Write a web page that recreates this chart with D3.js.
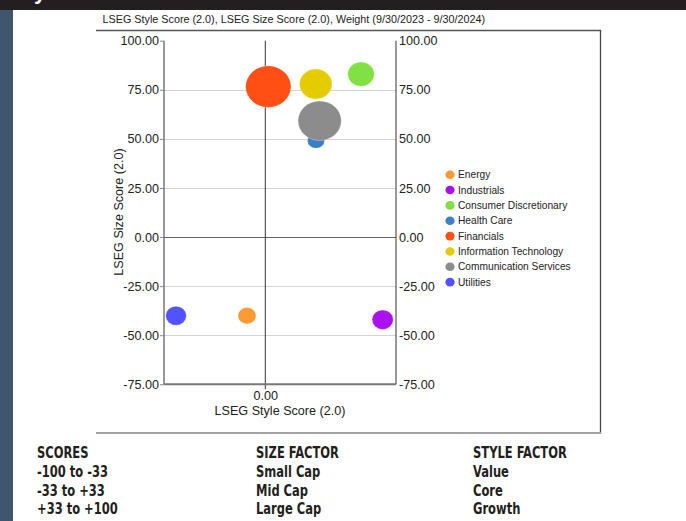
<!DOCTYPE html>
<html>
<head>
<meta charset="utf-8">
<script src="https://cdn.jsdelivr.net/npm/d3@7"></script>
<style>
  html, body { margin: 0; padding: 0; background: #fff; }
  svg { display: block; }
  text { font-family: "Liberation Sans", Arial, sans-serif; fill: #222; }
  .tbl text { font-family: "Liberation Sans Narrow", "DejaVu Sans Condensed", sans-serif; fill: #231f20; }
</style>
</head>
<body>
<svg id="chart" width="686" height="521"></svg>
<script>
// sectors, in legend order
const sectors     = ["Energy", "Industrials", "Consumer Discretionary", "Health Care",
                     "Financials", "Information Technology", "Communication Services", "Utilities"];
const styleScores = [-14.0, 89.8, 73.2, 38.8, 2.3, 38.6, 41.6, -68.3];
const sizeScores  = [-40.1, -42.1, 83.0, 49.2, 76.6, 77.9, 59.2, -40.1];
const weights     = [3.4, 4.7, 7.4, 3.1, 21.6, 11.2, 19.6, 4.5];
const colors      = ["#ff9933", "#aa11ee", "#80e044", "#3b80c6", "#ff4f14", "#e5cc00", "#8c8c8c", "#5252ff"];

const yTicks = [100, 75, 50, 25, 0, -25, -50, -75];
const xTicks = [0];

const title  = "LSEG Style Score (2.0), LSEG Size Score (2.0), Weight (9/30/2023 - 9/30/2024)";
const xTitle = "LSEG Style Score (2.0)";
const yTitle = "LSEG Size Score (2.0)";

const tblHeads = ["SCORES", "SIZE FACTOR", "STYLE FACTOR"];
const tblCols  = [
  ["-100 to -33", "-33 to +33", "+33 to +100"],
  ["Small Cap", "Mid Cap", "Large Cap"],
  ["Value", "Core", "Growth"]
];

const svg = d3.select("#chart");
const fmt = d => d.toFixed(2);

// page frame: dark top bar + left strip
svg.append("rect").attr("x", 0).attr("y", 0).attr("width", 686).attr("height", 10).attr("fill", "#231f20");
svg.append("rect").attr("x", 0).attr("y", 10).attr("width", 13).attr("height", 511).attr("fill", "#3e576c");
svg.append("text").attr("x", 34).attr("y", -1).attr("font-size", 22).attr("font-weight", "bold")
   .style("fill", "#fff").text("y");

// chart box
svg.append("line").attr("x1", 96).attr("x2", 601).attr("y1", 30.5).attr("y2", 30.5)
   .attr("stroke", "#555").attr("stroke-width", 1.3);
svg.append("line").attr("x1", 600.5).attr("x2", 600.5).attr("y1", 30).attr("y2", 434)
   .attr("stroke", "#444").attr("stroke-width", 1.3);
svg.append("line").attr("x1", 96).attr("x2", 601).attr("y1", 433).attr("y2", 433)
   .attr("stroke", "#a3a3a3").attr("stroke-width", 2);

svg.append("text").attr("x", 102.5).attr("y", 23).attr("font-size", 10.8).text(title);

// scales
const x = d3.scaleLinear().domain([-77.5, 100]).range([164, 396]);
const y = d3.scaleLinear().domain([-75, 100]).range([384.3, 40.7]);
const r = d3.scaleSqrt().domain([0, d3.max(weights)]).range([0, 20.8]);
const stretch = 1.09; // bubbles are drawn a bit wider than tall

const g = svg.append("g");

// grid
g.append("g").selectAll("line").data(yTicks.filter(d => d !== 0 && d !== 100 && d !== -75))
  .join("line")
  .attr("x1", x.range()[0]).attr("x2", x.range()[1])
  .attr("y1", d => Math.round(y(d)) + 0.5).attr("y2", d => Math.round(y(d)) + 0.5)
  .attr("stroke", "#d4d4d4");

// zero lines
g.append("line").attr("x1", x.range()[0]).attr("x2", x.range()[1])
  .attr("y1", Math.round(y(0)) + 0.5).attr("y2", Math.round(y(0)) + 0.5).attr("stroke", "#666");
g.append("line").attr("x1", x(0)).attr("x2", x(0)).attr("y1", y(100)).attr("y2", y(-75) + 5)
  .attr("stroke", "#333");

// axes
const yAxisL = g.append("g").attr("transform", `translate(${x.range()[0]},0)`)
  .call(d3.axisLeft(y).tickValues(yTicks).tickSize(4).tickPadding(1).tickFormat(fmt));
const yAxisR = g.append("g").attr("transform", `translate(${x.range()[1]},0)`)
  .call(d3.axisRight(y).tickValues(yTicks).tickSize(0).tickPadding(3).tickFormat(fmt));
const xAxis = g.append("g").attr("transform", `translate(0,${y(-75)})`)
  .call(d3.axisBottom(x).tickValues(xTicks).tickSize(0).tickPadding(7).tickFormat(fmt));

[yAxisL, yAxisR, xAxis].forEach(a => {
  a.attr("font-family", null).attr("font-size", null);
  a.selectAll("text").attr("font-size", 12.6).style("fill", "#222");
});
yAxisL.select(".domain").attr("stroke", "#333").attr("d", `M0,${y(100)}V${y(-75)}`);
yAxisR.select(".domain").attr("stroke", "#333").attr("d", `M0,${y(100)}V${y(-75)}`);
yAxisL.selectAll(".tick line").attr("stroke", "#888");
xAxis.select(".domain").attr("stroke", "#777").attr("stroke-width", 2)
  .attr("d", `M${x.range()[0]},0H${x.range()[1]}`);

// axis titles
svg.append("text").attr("x", 280).attr("y", 415).attr("text-anchor", "middle").attr("font-size", 12.6).text(xTitle);
svg.append("text").attr("transform", "translate(123,212) rotate(-90)").attr("text-anchor", "middle")
   .attr("font-size", 12.6).text(yTitle);

// bubbles
const pts = sectors.map((s, i) => ({ s, x: styleScores[i], y: sizeScores[i], w: weights[i], c: colors[i] }));
g.append("g").selectAll("ellipse").data(pts)
  .join("ellipse")
  .attr("cx", d => x(d.x)).attr("cy", d => y(d.y))
  .attr("rx", d => r(d.w) * stretch).attr("ry", d => r(d.w))
  .attr("fill", d => d.c)
  .attr("stroke", "#fff").attr("stroke-opacity", 0.5).attr("stroke-width", 0.6);

// legend
const leg = svg.append("g").selectAll("g").data(pts).join("g")
  .attr("transform", (d, i) => `translate(450,${174.7 + i * 15.35})`);
leg.append("ellipse").attr("rx", 4.6).attr("ry", 4.3).attr("fill", d => d.c);
leg.append("text").attr("x", 8).attr("y", 3.5).attr("font-size", 10.2).text(d => d.s);

// bottom key table (condensed type, squeezed horizontally)
const tbl = svg.append("g").attr("class", "tbl");
const colX = [37, 256, 473];
const addCell = (t, cx, cy) => tbl.append("text")
  .attr("transform", `translate(${cx},${cy}) scale(0.8,1)`)
  .attr("font-size", 16).attr("font-weight", "bold").text(t);
tblHeads.forEach((h, i) => {
  addCell(h, colX[i], 458);
  tblCols[i].forEach((t, j) => addCell(t, colX[i], 477 + j * 18.5));
});
</script>
</body>
</html>
